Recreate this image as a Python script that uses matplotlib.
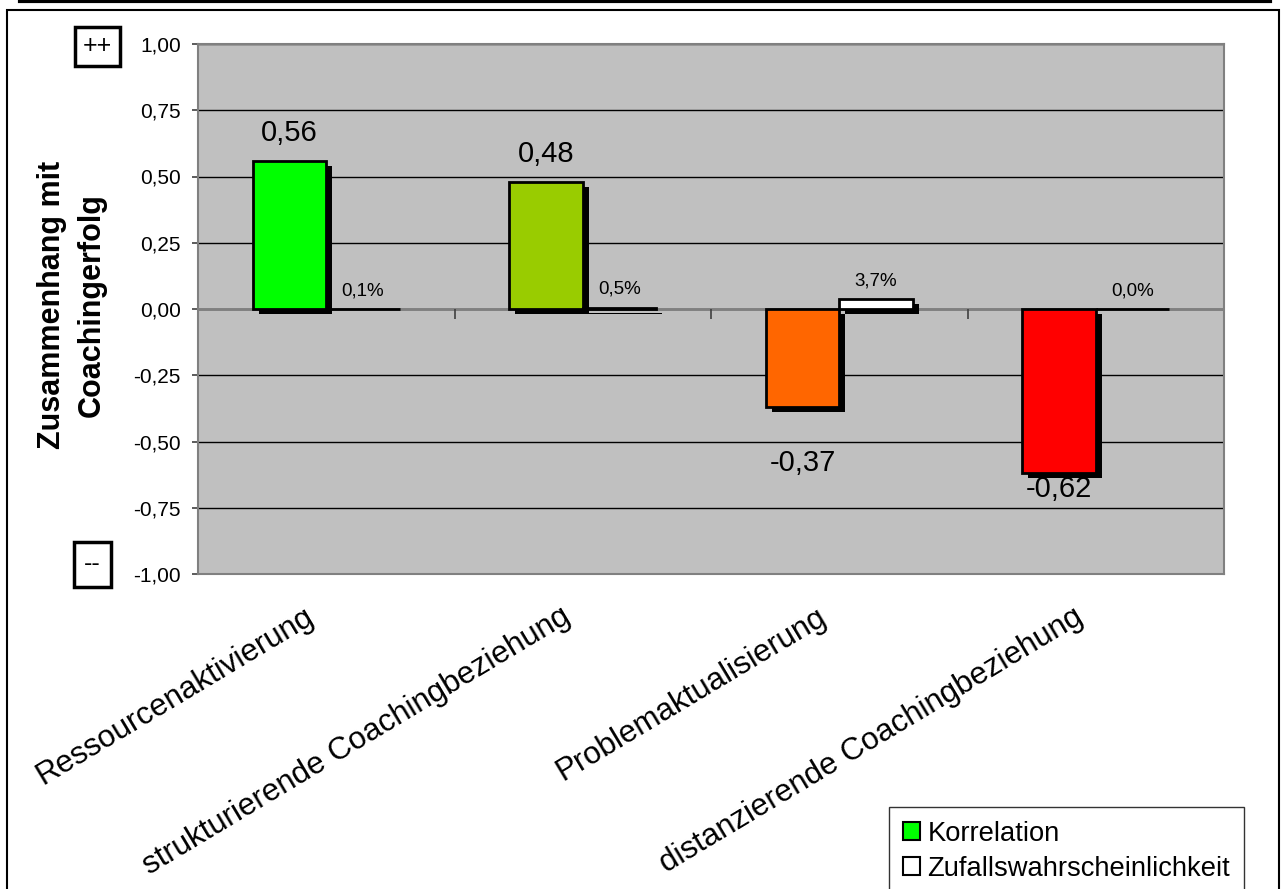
import matplotlib
matplotlib.use("Agg")
import matplotlib.pyplot as plt
import matplotlib.lines as mlines
import matplotlib.patheffects as pe
import matplotlib.transforms as mtransforms
from matplotlib.patches import Rectangle
import numpy as np

plt.rcParams['font.family'] = ['Liberation Sans', 'DejaVu Sans']

# Daten
kategorien = ['Ressourcenaktivierung', 'strukturierende Coachingbeziehung',
              'Problemaktualisierung', 'distanzierende Coachingbeziehung']
korrelation = [0.56, 0.48, -0.37, -0.62]
zufall = [0.001, 0.005, 0.037, 0.000]
korr_labels = ['0,56', '0,48', '-0,37', '-0,62']
zufall_labels = ['0,1%', '0,5%', '3,7%', '0,0%']
yticks = [1.00, 0.75, 0.50, 0.25, 0.00, -0.25, -0.50, -0.75, -1.00]
ytick_labels = ['1,00', '0,75', '0,50', '0,25', '0,00', '-0,25', '-0,50', '-0,75', '-1,00']

# Farben / Stil
korr_farben = ['#00FF00', '#99CC00', '#FF6600', '#FF0000']
label_offset_pt = [10, 10, -30, -1]   # manuell verschobene Datenbeschriftungen

W, H = 1282, 889
fig = plt.figure(figsize=(W / 100, H / 100), dpi=100)

# Rahmen und Linie oben
fig.patches.append(Rectangle((7 / W, -0.01), (1279 - 7) / W, 1 - 10 / H + 0.01,
                             transform=fig.transFigure, fill=False,
                             edgecolor='black', linewidth=1.5))
fig.lines.append(mlines.Line2D([20 / W, 1270 / W], [1 - 0.8 / H, 1 - 0.8 / H],
                               transform=fig.transFigure, color='black', linewidth=3))

ax = fig.add_axes([198 / W, 1 - 574 / H, (1224 - 198) / W, (574 - 44) / H])
ax.set_facecolor('#C0C0C0')
for s in ax.spines.values():
    s.set_color('#808080')
    s.set_linewidth(1.5)

x = np.arange(len(kategorien))
breite = 1 / 3.5   # Abstandsbreite 150%
schatten = [pe.SimplePatchShadow(offset=(4.3, -3.6), shadow_rgbFace='black', alpha=1.0),
            pe.Normal()]

b1 = ax.bar(x - breite / 2, korrelation, breite, color=korr_farben,
            edgecolor='black', linewidth=2, zorder=3, label='Korrelation')
b2 = ax.bar(x + breite / 2, zufall, breite, color='white',
            edgecolor='black', linewidth=2, zorder=3, label='Zufallswahrscheinlichkeit')
for r in list(b1) + list(b2):
    r.set_path_effects(schatten)

# Datenbeschriftungen
for i in range(len(kategorien)):
    ax.annotate(korr_labels[i], (x[i] - breite / 2, korrelation[i]),
                xytext=(0, label_offset_pt[i]), textcoords='offset points',
                ha='center', va='bottom' if korrelation[i] > 0 else 'top',
                fontsize=21, zorder=5)
    ax.annotate(zufall_labels[i], (x[i] + breite / 2, zufall[i]),
                xytext=(0, 7), textcoords='offset points',
                ha='center', va='bottom', fontsize=13.5, zorder=5)

ax.set_ylim(-1, 1)
ax.set_xlim(-0.5, len(kategorien) - 0.5)
ax.set_yticks(yticks)
ax.set_yticklabels(ytick_labels, fontsize=15)
ax.yaxis.grid(True, color='black', linewidth=1)
ax.set_axisbelow(True)
ax.tick_params(axis='y', length=4.5, width=1.2, color='#404040', pad=8)

# Nulllinie mit Kategorie-Strichen
ax.axhline(0, color='#808080', linewidth=2, zorder=2)
grenzen = np.arange(len(kategorien) - 1) + 0.5
ax.plot(grenzen, np.zeros_like(grenzen), linestyle='none', marker=mlines.TICKDOWN,
        markersize=7, markeredgewidth=1.2, color='#404040', zorder=2, clip_on=False)

ax.set_xticks(x)
ax.set_xticklabels(kategorien, fontsize=22.5, rotation=31, ha='right', va='center',
                   rotation_mode='anchor')
ax.tick_params(axis='x', length=0, pad=29)
verschiebung = mtransforms.ScaledTranslation(-0.15, 0, fig.dpi_scale_trans)
for lab in ax.get_xticklabels():
    lab.set_transform(lab.get_transform() + verschiebung)

fig.text(72 / W, 1 - 305 / H, 'Zusammenhang mit\nCoachingerfolg', rotation=90,
         ha='center', va='center', fontsize=22, fontweight='bold', linespacing=1.45)

# ++ / -- Kästchen
fig.text(97.5 / W, 1 - 46 / H, '++', ha='center', va='center', fontsize=18,
         bbox=dict(boxstyle='square,pad=0.3', facecolor='white', edgecolor='black', linewidth=2.5))
fig.text(92.5 / W, 1 - 564 / H, '--', ha='center', va='center', fontsize=18,
         bbox=dict(boxstyle='square,pad=0.42', facecolor='white', edgecolor='black', linewidth=2.5))

leg = fig.legend(handles=[b1, b2], loc='upper left', bbox_to_anchor=(889 / W, 1 - 807 / H),
                 fontsize=19.7, frameon=True, fancybox=False, shadow=False,
                 handlelength=0.62, handleheight=0.62, handletextpad=0.28,
                 labelspacing=0.33, borderpad=0.5, borderaxespad=0)
leg.get_frame().set_edgecolor('black')
leg.get_frame().set_linewidth(1)
leg.legend_handles[0].set_facecolor('#00FF00')
for h in leg.legend_handles:
    h.set_path_effects([])
    h.set_linewidth(1.5)

fig.savefig('out.png', dpi=100)
